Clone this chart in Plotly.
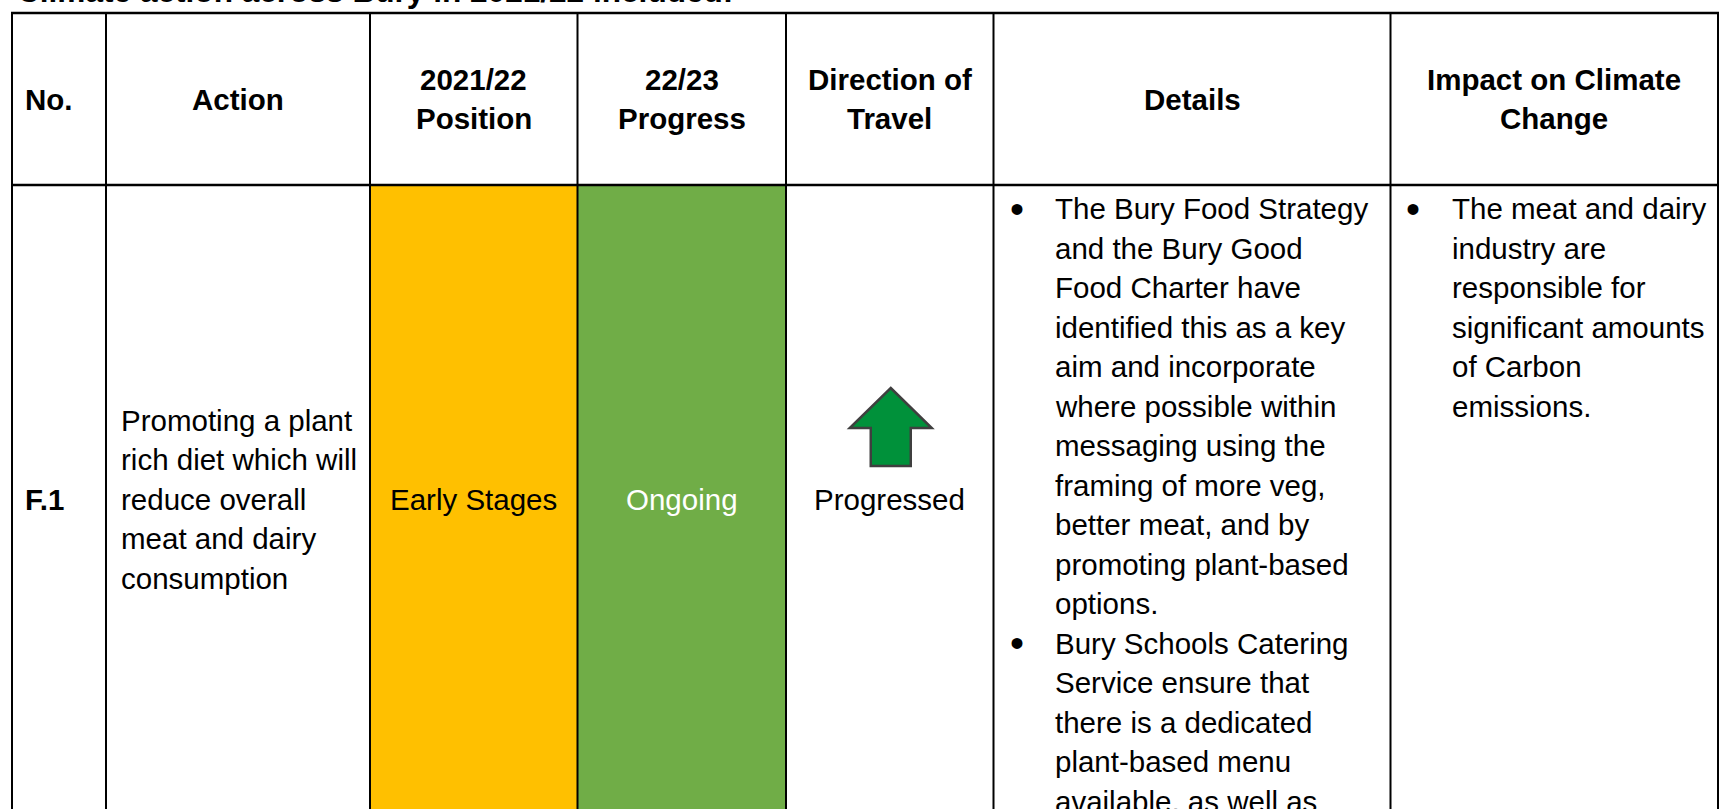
import plotly.graph_objects as go

# ---- content ----
title_text = "Climate action across Bury in 2021/22 included:"
header_labels = ["No.", "Action", "2021/22<br>Position", "22/23<br>Progress",
                 "Direction of<br>Travel", "Details", "Impact on Climate<br>Change"]
row_no = "F.1"
action_lines = ["Promoting a plant", "rich diet which will", "reduce overall",
                "meat and dairy", "consumption"]
position_2122 = "Early Stages"
progress_2223 = "Ongoing"
direction = "Progressed"
details_lines = ["The Bury Food Strategy", "and the Bury Good", "Food Charter have",
                 "identified this as a key", "aim and incorporate",
                 "where possible within", "messaging using the",
                 "framing of more veg,", "better meat, and by",
                 "promoting plant-based", "options.", "Bury Schools Catering",
                 "Service ensure that", "there is a dedicated",
                 "plant-based menu", "available, as well as"]
details_bullet_lines = [0, 11]
impact_lines = ["The meat and dairy", "industry are", "responsible for",
                "significant amounts", "of Carbon", "emissions."]
impact_bullet_lines = [0]

# ---- layout geometry (screen pixels) ----
W, H = 1720, 809
col_edges = [12, 106, 370, 577.5, 786, 993.5, 1390.5, 1718]
table_top, header_bottom = 13, 185
FONT = "Liberation Sans, Arial, sans-serif"
FS = 29.5
LINE = 39.5
YELLOW, GREEN = "#FFC000", "#70AD47"

fig = go.Figure()
fig.add_trace(go.Scatter(x=[0, W], y=[0, H], mode="markers",
                         marker=dict(opacity=0), hoverinfo="skip", showlegend=False))

shapes = []
# coloured cells
shapes.append(dict(type="rect", xref="x", yref="y", x0=col_edges[2], x1=col_edges[3],
                   y0=header_bottom, y1=H + 5, fillcolor=YELLOW, line=dict(width=0), layer="below"))
shapes.append(dict(type="rect", xref="x", yref="y", x0=col_edges[3], x1=col_edges[4],
                   y0=header_bottom, y1=H + 5, fillcolor=GREEN, line=dict(width=0), layer="below"))
# borders
for xe in col_edges:
    shapes.append(dict(type="line", xref="x", yref="y", x0=xe, x1=xe, y0=table_top, y1=H + 5,
                       line=dict(color="black", width=2)))
for ye in [table_top, header_bottom]:
    shapes.append(dict(type="line", xref="x", yref="y", x0=col_edges[0] - 1, x1=col_edges[-1] + 1,
                       y0=ye, y1=ye, line=dict(color="black", width=2.5)))

# arrow in direction column
cx = (col_edges[4] + col_edges[5]) / 2 + 1
tip, head_base, bottom = 388, 428, 466
hw, sw = 41, 20
arrow_path = (f"M {cx},{tip} L {cx + hw},{head_base} L {cx + sw},{head_base} "
              f"L {cx + sw},{bottom} L {cx - sw},{bottom} L {cx - sw},{head_base} "
              f"L {cx - hw},{head_base} Z")
shapes.append(dict(type="path", xref="x", yref="y", path=arrow_path,
                   fillcolor="#00913A", line=dict(color="#3F3F3F", width=2.5)))

ann = []
def txt(x, y, s, bold=False, anchor="left", color="black", size=FS, yshift=0):
    if bold:
        s = "<b>" + s + "</b>"
    ann.append(dict(x=x, y=y, xref="x", yref="y", text=s, showarrow=False,
                    xanchor=anchor, yanchor="middle", align=anchor, yshift=yshift,
                    font=dict(family=FONT, size=size, color=color)))

# title (cut at top of the page)
txt(15, 1, title_text, bold=True, size=31.6, yshift=10)

# headers
hdr_mid = (table_top + header_bottom) / 2
for i, lab in enumerate(header_labels):
    parts = lab.split("<br>")
    n = len(parts)
    for k, p in enumerate(parts):
        y = hdr_mid + (k - (n - 1) / 2) * 38.5
        if i == 0:
            txt(col_edges[0] + 11, y, p, bold=True)
        else:
            txt((col_edges[i] + col_edges[i + 1]) / 2, y, p, bold=True, anchor="center")

# body row
row_mid = 499
txt(col_edges[0] + 11, row_mid, row_no, bold=True)
n = len(action_lines)
for k, s in enumerate(action_lines):
    txt(col_edges[1] + 13, row_mid + (k - (n - 1) / 2) * LINE, s)
txt((col_edges[2] + col_edges[3]) / 2, row_mid, position_2122, anchor="center")
txt((col_edges[3] + col_edges[4]) / 2, row_mid, progress_2223, anchor="center", color="white")
txt((col_edges[4] + col_edges[5]) / 2, row_mid, direction, anchor="center")

first_line = 208.5
for k, s in enumerate(details_lines):
    y = first_line + k * LINE
    txt(col_edges[5] + 59, y, s)
    if k in details_bullet_lines:
        txt(col_edges[5] + 23, y, "•", anchor="center", size=40)
for k, s in enumerate(impact_lines):
    y = first_line + k * LINE
    txt(col_edges[6] + 59, y, s)
    if k in impact_bullet_lines:
        txt(col_edges[6] + 22, y, "•", anchor="center", size=40)

fig.update_layout(
    width=W, height=H, margin=dict(l=0, r=0, t=0, b=0),
    paper_bgcolor="white", plot_bgcolor="white",
    xaxis=dict(range=[0, W], visible=False, fixedrange=True),
    yaxis=dict(range=[H, 0], visible=False, fixedrange=True),
    shapes=shapes, annotations=ann, showlegend=False,
)
fig.write_html("out.html", config={"displayModeBar": False, "staticPlot": True},
               post_script="document.body.style.margin='0';document.body.style.overflow='hidden';")
